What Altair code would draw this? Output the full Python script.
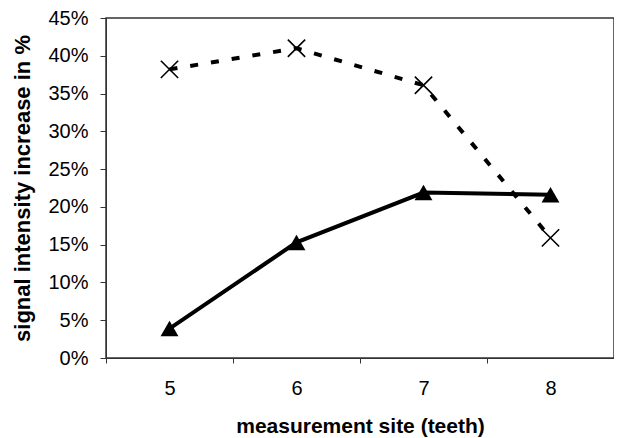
import altair as alt
import pandas as pd

sites = ["5", "6", "7", "8"]
series_x = [0.382, 0.410, 0.361, 0.159]   # dashed line, X markers
series_tri = [0.039, 0.153, 0.219, 0.216]  # solid line, triangles
y_ticks = [0.0, 0.05, 0.10, 0.15, 0.20, 0.25, 0.30, 0.35, 0.40, 0.45]

df_x = pd.DataFrame({"site": sites, "value": series_x})
df_t = pd.DataFrame({"site": sites, "value": series_tri})

FONT = "Liberation Sans"
W = 508

x_enc = alt.X(
    "site:O",
    sort=sites,
    scale=alt.Scale(type="point", padding=0.5),
    axis=alt.Axis(
        title="measurement site (teeth)",
        labelAngle=0,
        tickOffset=-W / 8,
        labelOffset=W / 8,
        tickSize=5,
        labelPadding=15,
        titlePadding=17,
        titleFontSize=21,
        domainColor="#333",
        tickColor="#333",
    ),
)
y_enc = alt.Y(
    "value:Q",
    scale=alt.Scale(domain=[0, 0.45], nice=False),
    axis=alt.Axis(
        title="signal intensity increase in %",
        values=y_ticks,
        format=".0%",
        tickSize=6,
        labelPadding=12,
        titlePadding=13,
        titleFontSize=22,
        grid=False,
        domainColor="#333",
        tickColor="#333",
    ),
)

line_x = alt.Chart(df_x).mark_line(
    color="black", strokeWidth=4, strokeDash=[8, 13]
).encode(x=x_enc, y=y_enc)
pts_x = alt.Chart(df_x).mark_point(
    shape="M-1,-1L1,1M-1,1L1,-1", size=300, color="black", strokeWidth=1.6, filled=False, opacity=1
).encode(x=x_enc, y=y_enc)

line_t = alt.Chart(df_t).mark_line(color="black", strokeWidth=4).encode(x=x_enc, y=y_enc)
pts_t = alt.Chart(df_t).mark_point(
    shape="triangle-up", size=320, color="black", filled=True, opacity=1
).encode(x=x_enc, y=y_enc)

chart = (
    alt.layer(line_x, line_t, pts_x, pts_t)
    .properties(
        width=W,
        height=340,
        autosize="none",
        padding={"left": 98, "top": 10, "right": 0, "bottom": 86},
    )
    .configure_view(stroke="#333", strokeWidth=1.5)
    .configure_axis(
        labelFont=FONT,
        titleFont=FONT,
        labelFontSize=20,
        labelColor="black",
        titleColor="black",
        titleFontWeight="bold",
    )
)

chart.save("out.html", embed_options={"renderer": "svg", "actions": False})
